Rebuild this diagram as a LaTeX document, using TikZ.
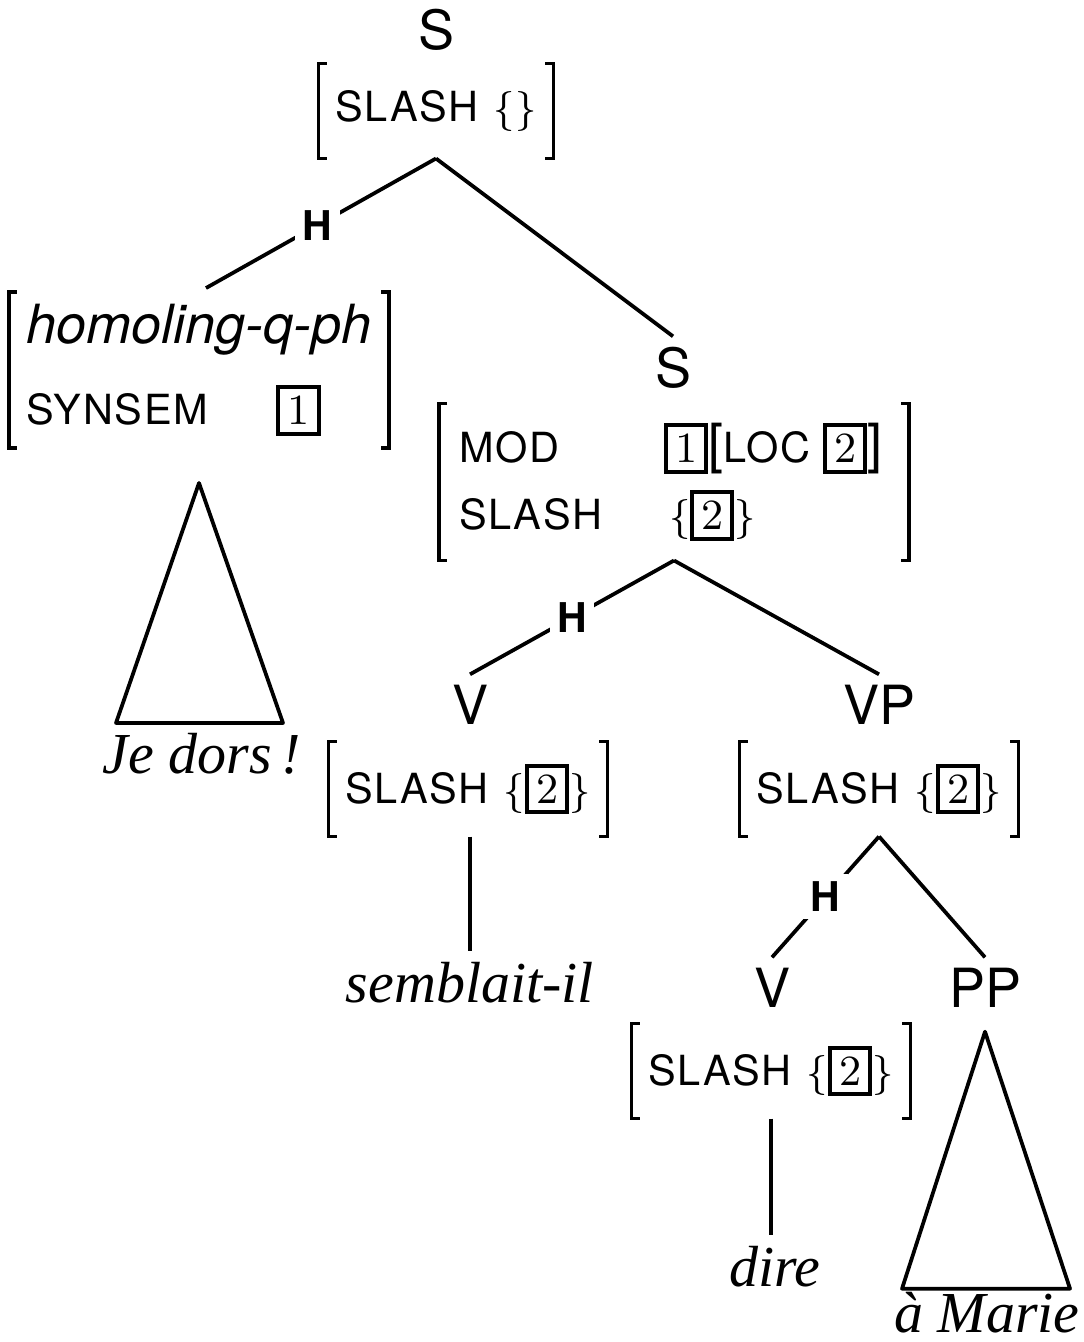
\documentclass[tikz,border=0pt]{standalone}
\usepackage{fontspec}
\setsansfont{TeX Gyre Heros}
\newfontfamily\wordfont{Liberation Serif}
\newfontfamily\featfont[LetterSpace=4]{TeX Gyre Heros}
\usepackage{tikz}
\tikzset{
    cat/.style = {font=\fontsize{10.8}{12}\selectfont\sffamily, inner sep=2pt},
    avm/.style = {font=\fontsize{8.3}{13.4}\selectfont\featfont, align=left,
                        inner xsep=3.2pt, inner ysep=0pt, minimum height=18.6pt},
    word/.style = {font=\fontsize{11.6}{13}\selectfont\wordfont\itshape, inner sep=2pt},
    hd/.style = {font=\fontsize{8.2}{10}\selectfont\sffamily\bfseries, fill=white, inner sep=1.5pt},
    branch/.style = {line width=0.75pt, line join=round},
    brk/.style = {line width=0.65pt}
}
\newcommand{\tagbox}[1]{{\setlength{\fboxsep}{1.4pt}\setlength{\fboxrule}{0.8pt}%
    \fbox{\fontsize{8.6}{8.6}\selectfont\rmfamily #1}}}
\newcommand{\sbrk}[1]{{\fontsize{10.8}{10.8}\selectfont\sffamily #1}}
\newcommand{\avmbrackets}[1]{%
    \draw [brk] ([xshift=1.6pt]#1.north west) -- (#1.north west) -- (#1.south west) -- ([xshift=1.6pt]#1.south west);
    \draw [brk] ([xshift=-1.6pt]#1.north east) -- (#1.north east) -- (#1.south east) -- ([xshift=-1.6pt]#1.south east);}

\begin{document}
\begin{tikzpicture}[x=0.2pt, y=-0.2pt]
	\useasboundingbox (0,0) rectangle (1083,1342);
	\node (s0) [cat] at (436,30) {S};
	\node (s0avm) [avm, minimum width=46.4pt] at (436,111) {SLASH\hspace{3pt}$\{\}$};
	\node (hq) [avm, minimum width=75.6pt, minimum height=30.8pt] at (199,370)
		{{\fontsize{10.8}{13.4}\selectfont\sffamily\itshape homoling-q-ph}\\[2.8pt]\makebox[50pt][l]{SYNSEM}\tagbox{1}};
	\node (jedors) [word, anchor=base] at (202,773) {Je dors\,!};
	\node (s1) [cat] at (673,368) {S};
	\node (s1avm) [avm, minimum width=93.6pt, minimum height=31pt] at (674,482)
		{\makebox[86pt][l]{\makebox[41pt][l]{MOD}\tagbox{1}\sbrk{[}LOC \tagbox{2}\sbrk{]}}\\\makebox[42pt][l]{SLASH}$\{$\tagbox{2}$\}$};
	\node (v1) [cat] at (470,705) {V};
	\node (v1avm) [avm, minimum width=55pt] at (468,789) {SLASH\hspace{3pt}$\{$\tagbox{2}$\}$};
	\node (sembl) [word, anchor=base] at (470,1002) {semblait-il};
	\node (vp) [cat] at (879,705) {VP};
	\node (vpavm) [avm, minimum width=54.8pt] at (879,789) {SLASH\hspace{3pt}$\{$\tagbox{2}$\}$};
	\node (v2) [cat] at (772,988) {V};
	\node (v2avm) [avm, minimum width=54.8pt] at (771,1071) {SLASH\hspace{3pt}$\{$\tagbox{2}$\}$};
	\node (dire) [word, anchor=base] at (775,1286) {dire};
	\node (pp) [cat] at (985,988) {PP};
	\node (amarie) [word, anchor=base] at (987,1332) {à Marie};
	\avmbrackets{s0avm}
	\avmbrackets{hq}
	\avmbrackets{s1avm}
	\avmbrackets{v1avm}
	\avmbrackets{vpavm}
	\avmbrackets{v2avm}
	\draw [branch, shorten >=1.6pt] (s0avm.south) to node[hd] {H} (hq.north);
	\draw [branch] (s0avm.south) to (s1.north);
	\draw [branch] (s1avm.south) to node[hd] {H} (v1.north);
	\draw [branch] (s1avm.south) to (vp.north);
	\draw [branch] ([xshift=0.4pt]v1avm.south) to ([xshift=0.4pt]v1avm.south |- sembl.north);
	\draw [branch] (vpavm.south) to node[hd] {H} (v2.north);
	\draw [branch] (vpavm.south) to (pp.north);
	\draw [branch] (v2avm.south) to (v2avm.south |- dire.north);
	\draw [branch] ([yshift=-7pt]hq.south) -- ++(-83,240) -- ++(167,0) -- cycle;
	\draw [branch] ([yshift=-2.6pt]pp.south) -- ++(-83,257) -- ++(168,0) -- cycle;
\end{tikzpicture}
\end{document}
